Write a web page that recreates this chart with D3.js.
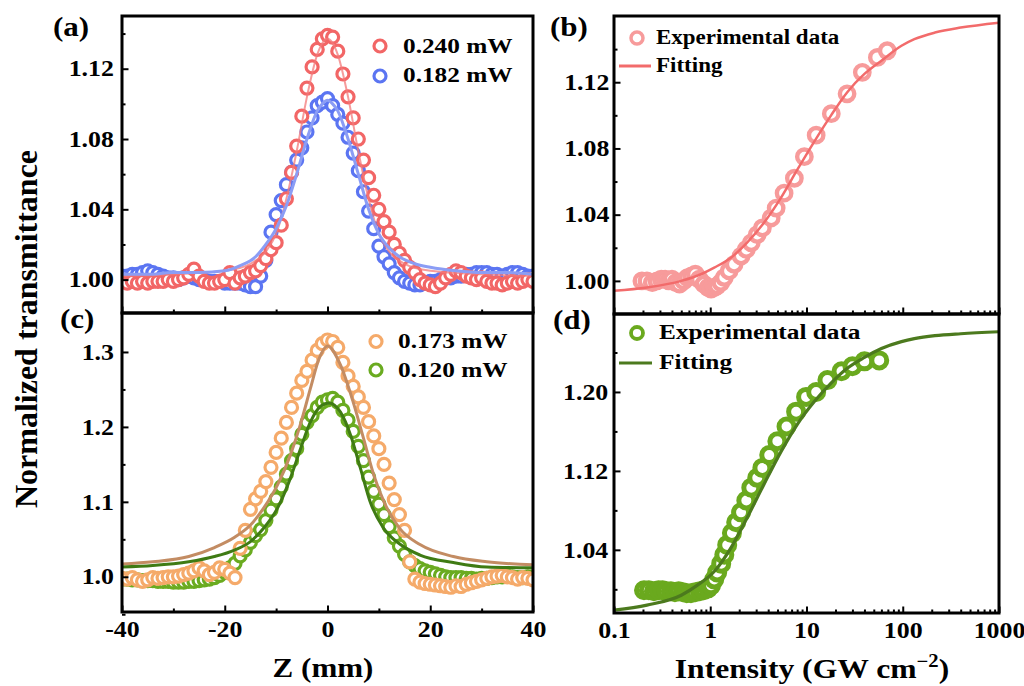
<!DOCTYPE html>
<html><head><meta charset="utf-8">
<script src="https://cdn.jsdelivr.net/npm/d3@7"></script>
<style>body{margin:0;background:#fff}svg{display:block}</style>
</head><body><svg id="c" width="1024" height="686"></svg>
<script>
// ---------------- DATA ----------------
const zScan = [-40,-39,-38,-37,-36,-35,-34,-33,-32,-31,-30,-29,-28,-27,-26,-25,-24,-23,-22,-21,
  -20,-19,-18,-17,-16,-15,-14,-13,-12,-11,-10,-9,-8,-7,-6,-5,-4,-3,-2,-1,0,
  1,2,3,4,5,6,7,8,9,10,11,12,13,14,15,16,17,18,19,20,21,22,23,24,25,26,27,28,29,30,
  31,32,33,34,35,36,37,38,39,40];

// (a) 0.240 mW
const redA = [
0.999,0.998,0.999,0.998,0.999,0.998,0.999,0.999,0.999,1.000,
0.999,1.000,1.001,1.003,1.006,1.002,0.999,0.998,0.998,0.999,
1.000,1.004,0.998,1.001,1.002,1.004,1.005,1.008,1.012,1.017,
1.021,1.031,1.046,1.061,1.076,1.093,1.109,1.121,1.131,1.137,
1.139,
1.138,1.130,1.117,1.104,1.092,1.080,1.068,1.058,1.048,1.040,
1.033,1.027,1.020,1.015,1.011,1.007,1.004,1.000,0.998,0.997,
0.996,0.998,1.001,1.003,1.005,1.004,1.002,1.001,1.000,1.001,
0.999,0.998,0.998,0.997,0.998,0.999,0.998,0.999,1.000,0.999];
// (a) 0.182 mW
const blueA = [
1.002,1.002,1.003,1.003,1.004,1.005,1.004,1.003,1.002,1.001,
1.001,1.000,1.001,1.002,1.001,1.000,1.000,0.999,0.999,0.999,
0.998,0.998,0.998,0.998,0.997,0.996,0.996,1.002,1.011,1.027,
1.037,1.045,1.054,1.061,1.068,1.075,1.084,1.092,1.099,1.101,
1.103,
1.099,1.094,1.089,1.081,1.072,1.062,1.050,1.039,1.029,1.019,
1.013,1.009,1.004,1.001,0.999,0.998,0.997,0.997,0.998,0.999,
0.999,1.000,1.001,1.001,1.002,1.002,1.003,1.003,1.004,1.004,
1.004,1.003,1.003,1.002,1.003,1.004,1.004,1.003,1.002,1.002];
const redFitZ = [-40,-30,-20,-15,-12,-10,-8,-6,-4,-2,0,2,4,6,8,10,12,15,20,30,40];
const redFitV = [1.002,1.003,1.005,1.009,1.016,1.026,1.046,1.073,1.104,1.128,1.137,1.128,1.104,1.073,1.046,1.026,1.016,1.009,1.005,1.003,1.002];
const blueFitZ = [-40,-35,-30,-25,-20,-17,-14,-12,-10,-8,-6,-4,-2,-1,0,1,2,4,6,8,10,12,14,17,20,25,30,35,40];
const blueFitV = [1.003,1.003,1.004,1.004,1.005,1.008,1.013,1.020,1.029,1.042,1.060,1.080,1.096,1.100,1.102,1.100,1.096,1.080,1.060,1.040,1.026,1.018,1.013,1.009,1.007,1.005,1.004,1.004,1.003];

// (c) 0.173 mW
const orangeC = [
0.998,0.997,0.999,0.996,0.994,0.996,0.999,0.998,0.999,1.000,
1.000,1.001,1.003,1.005,1.008,1.012,1.008,1.003,1.006,1.012,
1.010,1.005,0.999,1.038,1.062,1.090,1.104,1.114,1.127,1.146,
1.166,1.185,1.206,1.226,1.245,1.262,1.274,1.289,1.302,1.311,
1.316,
1.314,1.306,1.286,1.268,1.254,1.240,1.226,1.207,1.188,1.171,
1.150,1.125,1.103,1.083,1.062,1.020,0.997,0.993,0.991,0.990,
0.989,0.988,0.987,0.986,0.988,0.987,0.990,0.992,0.994,0.996,
0.998,1.000,1.001,1.002,1.000,0.999,0.997,0.999,0.998,0.996];
// (c) 0.120 mW
const greenC = [
0.997,0.997,0.996,0.996,0.995,0.995,0.995,0.994,0.994,0.994,
0.993,0.993,0.993,0.994,0.994,0.995,0.996,0.997,0.999,1.002,
1.006,1.012,1.018,1.028,1.036,1.046,1.055,1.063,1.075,1.089,
1.104,1.120,1.137,1.155,1.171,1.190,1.206,1.215,1.226,1.233,
1.236,
1.238,1.233,1.222,1.209,1.194,1.174,1.155,1.133,1.114,1.097,
1.083,1.067,1.052,1.041,1.030,1.020,1.015,1.011,1.008,1.006,
1.004,1.002,1.000,0.999,0.999,0.999,0.998,0.998,0.997,0.998,
0.998,0.999,1.000,1.000,1.001,1.000,0.999,0.999,1.000,1.000];
const brownFitZ = [-40,-34,-27,-22,-18,-15,-12.4,-9.7,-7.2,-5.2,-3.3,-1.7,0,2.5,5,7,9,11,14,18,24.5,31,40];
const brownFitV = [1.017,1.020,1.027,1.039,1.053,1.069,1.092,1.123,1.163,1.205,1.252,1.290,1.308,1.283,1.233,1.185,1.136,1.100,1.065,1.043,1.027,1.020,1.016];
const greenFitZ = [-40,-34,-27,-22,-18,-15,-12.4,-9.7,-7.2,-5.2,-3.3,-1.3,0.3,2.5,4.5,6.4,8.3,10.9,14.2,18,24.5,31,40];
const greenFitV = [1.013,1.015,1.020,1.027,1.036,1.047,1.065,1.092,1.132,1.172,1.207,1.228,1.232,1.220,1.189,1.145,1.100,1.065,1.043,1.029,1.019,1.013,1.012];

// (b) intensity dependence
const bI = [0.195,0.22,0.25,0.28,0.31,0.34,0.37,0.40,0.44,0.48,0.53,0.58,0.64,0.70,0.77,0.86,0.95,1.02,1.10,1.18,
  1.29,1.40,1.57,1.77,2.09,2.37,2.67,3.08,3.48,4.30,4.84,5.85,7.48,9.5,12.6,18.1,26.4,38.0,54.5,69.0];
const bT = [1.000,1.000,0.999,1.000,1.001,1.001,1.000,1.001,0.999,0.998,1.000,1.002,1.003,1.004,1.001,0.998,0.996,0.995,0.996,0.997,
  0.999,1.002,1.006,1.010,1.015,1.019,1.023,1.028,1.032,1.038,1.044,1.053,1.062,1.075,1.088,1.101,1.113,1.126,1.135,1.139];
const bFitI = [0.1,0.22,0.5,0.8,1.1,1.64,2.4,3.6,5.4,8,12,18,26.5,40,60,97,132,216,400,1000];
const bFitT = [0.994,0.996,1.000,1.004,1.008,1.014,1.023,1.035,1.050,1.067,1.084,1.100,1.114,1.125,1.133,1.142,1.146,1.150,1.153,1.156];

// (d) intensity dependence
const dI = [0.205,0.23,0.26,0.29,0.32,0.35,0.39,0.43,0.47,0.52,0.57,0.63,0.70,0.78,0.86,0.95,1.02,1.10,1.18,1.30,
  1.40,1.50,1.68,1.86,2.09,2.37,2.67,3.08,3.48,4.1,4.98,6.2,7.8,9.9,12.6,16.5,23.1,30.0,40,57];
const dT = [0.999,0.999,0.998,0.999,0.999,0.998,0.998,0.997,0.998,0.997,0.996,0.996,0.997,0.998,0.999,1.001,1.004,1.010,1.017,1.026,
  1.035,1.045,1.057,1.068,1.078,1.090,1.103,1.113,1.123,1.136,1.150,1.165,1.180,1.195,1.200,1.212,1.221,1.226,1.231,1.232];
const dFitI = [0.1,0.22,0.5,0.73,1.1,1.64,2.4,3.6,5.4,8,12,18,26.5,40,60,97,132,216,400,1000];
const dFitT = [0.979,0.984,0.994,1.004,1.018,1.042,1.072,1.106,1.139,1.167,1.190,1.209,1.224,1.235,1.244,1.251,1.254,1.257,1.259,1.261];

// ticks
const zMajor = [-40,-20,0,20,40], zMinor = [-30,-10,10,30];
const aYMajor = [1.00,1.04,1.08,1.12], aYMinor = [1.02,1.06,1.10,1.14];
const cYMajor = [1.0,1.1,1.2,1.3], cYMinor = [0.95,1.05,1.15,1.25];
const bYMajor = [1.00,1.04,1.08,1.12], bYMinor = [1.02,1.06,1.10,1.14];
const dYMajor = [1.04,1.12,1.20], dYMinor = [1.00,1.08,1.16,1.24];
const iMajor = [0.1,1,10,100,1000];
const iMinor = [0.2,0.3,0.4,0.5,0.6,0.7,0.8,0.9,2,3,4,5,6,7,8,9,20,30,40,50,60,70,80,90,200,300,400,500,600,700,800,900];

// ---------------- DRAW ----------------
const svg = d3.select("#c");
svg.append("rect").attr("width",1024).attr("height",686).attr("fill","#fff");
const SX = 1.15;
const FONT = "'Liberation Serif','Times New Roman',Times,serif";

function txt(g,x,y,s,size,anchor){
  return g.append("text").attr("transform",`translate(${x},${y}) scale(${SX},1)`)
    .attr("font-family",FONT).attr("font-weight","bold").attr("font-size",size)
    .attr("text-anchor",anchor||"start").attr("fill","#000").text(s);
}
function makePanel(id,box,xs,yd){
  const x = xs.range([box.l,box.r]);
  const y = d3.scaleLinear().domain(yd).range([box.b,box.t]);
  svg.append("clipPath").attr("id",id).append("rect")
    .attr("x",box.l).attr("y",box.t).attr("width",box.r-box.l).attr("height",box.b-box.t);
  const g = svg.append("g");
  const plot = g.append("g").attr("clip-path",`url(#${id})`);
  return {g,plot,x,y,box};
}
function styleAxis(sel){
  sel.select(".domain").remove();
  sel.selectAll("line").attr("stroke","#000").attr("stroke-width",2);
  sel.selectAll("text").attr("font-family",FONT).attr("font-weight","bold").attr("font-size",22.5)
    .attr("fill","#000").attr("transform",`scale(${SX},1)`);
}
function axes(p,xMaj,xMin,yMaj,yMin,xLabels,xFmt,yFmt,yPad){
  const b = p.box;
  p.g.append("g").attr("transform",`translate(0,${b.b})`)
    .call(d3.axisBottom(p.x).tickValues(xMin).tickSize(-3.5).tickFormat("")).call(styleAxis);
  p.g.append("g").attr("transform",`translate(0,${b.b})`)
    .call(d3.axisBottom(p.x).tickValues(xMaj).tickSize(-6.5).tickPadding(9).tickFormat(xLabels?xFmt:"")).call(styleAxis);
  p.g.append("g").attr("transform",`translate(${b.l},0)`)
    .call(d3.axisLeft(p.y).tickValues(yMin).tickSize(-3.5).tickFormat("")).call(styleAxis);
  p.g.append("g").attr("transform",`translate(${b.l},0)`)
    .call(d3.axisLeft(p.y).tickValues(yMaj).tickSize(-6.5).tickPadding(yPad).tickFormat(yFmt)).call(styleAxis);
  p.g.append("rect").attr("x",b.l).attr("y",b.t).attr("width",b.r-b.l).attr("height",b.b-b.t)
    .attr("fill","none").attr("stroke","#000").attr("stroke-width",3);
}
function dots(p,xs,ys,color,r,sw){
  p.plot.append("g").selectAll("circle").data(d3.zip(xs,ys)).join("circle")
    .attr("cx",d=>p.x(d[0])).attr("cy",d=>p.y(d[1])).attr("r",r)
    .attr("fill","#fff").attr("stroke",color).attr("stroke-width",sw);
}
function curve(p,xs,ys,color,sw,op){
  const line = d3.line().x(d=>p.x(d[0])).y(d=>p.y(d[1])).curve(d3.curveMonotoneX);
  p.plot.append("path").datum(d3.zip(xs,ys)).attr("d",line)
    .attr("fill","none").attr("stroke",color).attr("stroke-width",sw).attr("stroke-linejoin","round")
    .attr("stroke-opacity",op||1);
}
const f2 = d3.format(".2f"), f1 = d3.format(".1f");

// Panel (a)
const pa = makePanel("ca",{l:122,r:533,t:16,b:313},d3.scaleLinear().domain([-40,40]),[0.981,1.150]);
dots(pa,zScan,blueA,"#5b75f2",6,3.2);
dots(pa,zScan,redA,"#f26666",6,3.2);
curve(pa,redFitZ,redFitV,"#f37a7a",2,0.75);
curve(pa,blueFitZ,blueFitV,"#8b9df5",3);
axes(pa,zMajor,zMinor,aYMajor,aYMinor,false,null,f2,7);

// Panel (c)
const pc = makePanel("cc",{l:122,r:533,t:313,b:612},d3.scaleLinear().domain([-40,40]),[0.953,1.352]);
dots(pc,zScan,greenC,"#6aab20",6,3.2);
dots(pc,zScan,orangeC,"#f5aa6a",6,3.2);
curve(pc,brownFitZ,brownFitV,"#c38c63",3);
curve(pc,greenFitZ,greenFitV,"#3f7b14",3);
axes(pc,zMajor,zMinor,cYMajor,cYMinor,true,d=>String(d),f1,7);

// Panel (b)
const pb = makePanel("cb",{l:614,r:999,t:16,b:314},d3.scaleLog().domain([0.1,1000]),[0.980,1.160]);
dots(pb,bI,bT,"#f79b9b",7.2,4.4);
curve(pb,bFitI,bFitT,"#f26b6b",2.5);
axes(pb,iMajor,iMinor,bYMajor,bYMinor,false,null,f2,4);

// Panel (d)
const pd = makePanel("cd",{l:614,r:999,t:314,b:613},d3.scaleLog().domain([0.1,1000]),[0.976,1.279]);
dots(pd,dI,dT,"#6aa91e",7.5,5);
curve(pd,dFitI,dFitT,"#4c7a1e",3.2);
axes(pd,iMajor,iMinor,dYMajor,dYMinor,true,d=>String(d),f2,5);

// Legends
const L = svg.append("g");
function lgCircle(x,y,color,r,sw){L.append("circle").attr("cx",x).attr("cy",y).attr("r",r).attr("fill","#fff").attr("stroke",color).attr("stroke-width",sw);}
function lgLine(x1,x2,y,color,sw){L.append("line").attr("x1",x1).attr("x2",x2).attr("y1",y).attr("y2",y).attr("stroke",color).attr("stroke-width",sw);}
lgCircle(380,46,"#f26666",6,3.2); txt(L,403,53,"0.240 mW",22);
lgCircle(380,76,"#5b75f2",6,3.2); txt(L,403,82,"0.182 mW",22);
lgCircle(376,341.5,"#f5aa6a",6,3.2); txt(L,398,348,"0.173 mW",22);
lgCircle(376,370,"#6aab20",6,3.2); txt(L,398,377,"0.120 mW",22);
lgCircle(637,38,"#f79b9b",6,3.5); txt(L,656,44,"Experimental data",20);
lgLine(619,651,66,"#f26b6b",3); txt(L,656,72,"Fitting",20);
lgCircle(637,333,"#6aa91e",6,3.8); txt(L,659,339,"Experimental data",22);
lgLine(619,652,363,"#4c7a1e",3); txt(L,659,369,"Fitting",22);

// Panel labels
txt(L,53,36,"(a)",27); txt(L,550,36,"(b)",27);
txt(L,60,328,"(c)",27); txt(L,553,329,"(d)",27);

// Axis titles
L.append("text").attr("transform","translate(37,329) rotate(-90)")
  .attr("font-family",FONT).attr("font-weight","bold").attr("font-size",32)
  .attr("text-anchor","middle").attr("fill","#000").text("Normalized transmittance");
txt(L,323,677,"Z (mm)",27,"middle");
const it = txt(L,812,678,"",27.5,"middle");
it.append("tspan").text("Intensity (GW cm");
it.append("tspan").attr("font-size",18).attr("dy",-11).text("\u22122");
it.append("tspan").attr("dy",11).text(")");
</script></body></html>
